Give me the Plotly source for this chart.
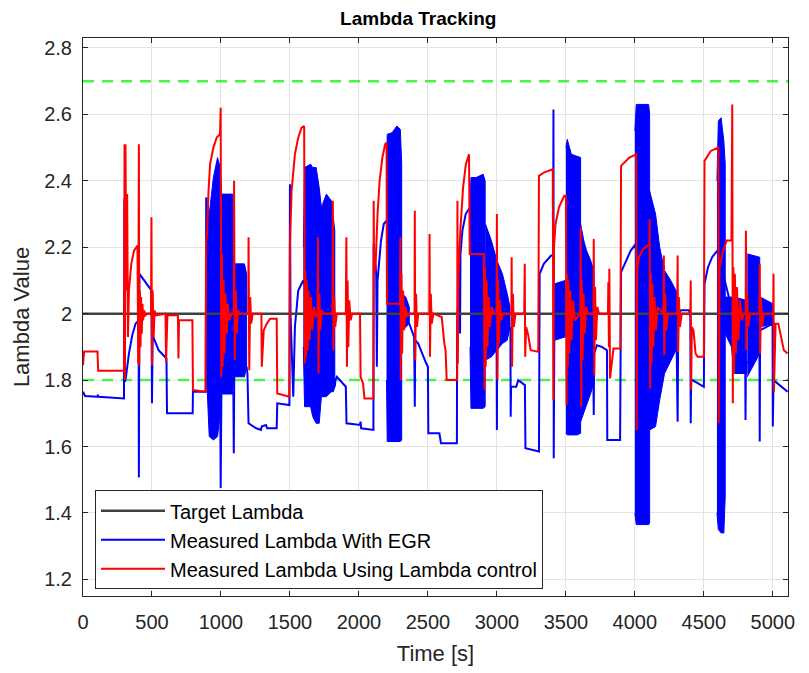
import plotly.graph_objects as go

# ---------------------------------------------------------------- data
target_t = [0, 5110]
target_lambda = [2.0, 2.0]
upper_limit = 2.7
lower_limit = 1.8

x_ticks = [0, 500, 1000, 1500, 2000, 2500, 3000, 3500, 4000, 4500, 5000]
y_ticks = [1.2, 1.4, 1.6, 1.8, 2.0, 2.2, 2.4, 2.6, 2.8]
y_tick_text = ["1.2", "1.4", "1.6", "1.8", "2", "2.2", "2.4", "2.6", "2.8"]

# Measured lambda with EGR: slow trend and isolated spikes, (time, lambda)
egr_points = [
    (0, 1.765), (15, 1.752), (105, 1.75), (108, 1.756), (112, 1.75),
    (297, 1.745), (300, 2.346), (304, 1.795), (310, 1.806), (333, 1.88),
    (357, 1.935), (381, 1.97), (403, 1.98), (405, 1.507), (409, 2.12),
    (452, 2.095), (496, 2.07), (500, 1.73), (505, 1.935), (548, 1.89),
    (605, 1.865), (609, 1.70), (795, 1.70), (797, 1.765), (890, 1.765),
    (893, 2.35), (897, 1.80), (995, 1.70), (998, 1.475), (1003, 1.76),
    (1090, 1.76), (1093, 1.58), (1096, 1.81), (1186, 1.84), (1192, 1.82),
    (1200, 1.67), (1219, 1.665), (1255, 1.655), (1290, 1.65), (1295, 1.66),
    (1326, 1.665), (1335, 1.655), (1404, 1.655), (1408, 1.73), (1496, 1.725),
    (1500, 2.39), (1504, 2.00), (1524, 1.75), (1536, 1.96), (1548, 2.03),
    (1560, 2.07), (1584, 2.09), (1597, 2.10), (1825, 1.78), (1830, 1.80),
    (1840, 1.81), (1870, 1.795), (1905, 1.78), (1910, 1.67), (2008, 1.665),
    (2012, 1.675), (2016, 1.655), (2105, 1.65), (2107, 2.21), (2125, 2.12),
    (2130, 1.84), (2135, 2.10), (2143, 2.14), (2160, 2.22), (2180, 2.27),
    (2200, 2.28), (2310, 2.00), (2365, 1.97), (2400, 1.93), (2405, 1.72),
    (2408, 1.92), (2430, 1.91), (2488, 1.85), (2500, 1.84), (2503, 1.64),
    (2583, 1.64), (2595, 1.61), (2710, 1.61), (2712, 1.97), (2726, 2.13),
    (2731, 2.15), (2733, 1.94), (2736, 2.18), (2750, 2.25), (2774, 2.30),
    (2805, 2.32), (2998, 1.90), (3000, 1.65), (3002, 1.90), (3098, 1.96),
    (3100, 1.69), (3103, 1.78), (3140, 1.78), (3155, 1.80), (3203, 1.785),
    (3207, 1.595), (3305, 1.585), (3310, 2.12), (3340, 2.15), (3393, 2.175),
    (3408, 2.175), (3410, 2.615), (3412, 1.565), (3418, 2.09), (3495, 2.00),
    (3500, 2.0), (3700, 1.78), (3702, 1.695), (3705, 1.88), (3725, 1.905),
    (3760, 1.90), (3790, 1.89), (3798, 1.89), (3800, 1.62), (3893, 1.62),
    (3900, 2.125), (3940, 2.16), (3970, 2.19), (3998, 2.205), (4303, 1.90),
    (4310, 1.675), (4313, 1.90), (4315, 2.00), (4334, 2.01), (4393, 2.01),
    (4402, 1.99), (4405, 1.67), (4408, 1.80), (4417, 1.80), (4500, 1.78),
    (4505, 2.09), (4530, 2.14), (4560, 2.17), (4598, 2.19), (4800, 1.85),
    (4802, 1.68), (4805, 1.85), (4903, 1.88), (4905, 1.615), (4908, 1.95),
    (4998, 1.97), (5000, 1.66), (5005, 1.80), (5107, 1.765),
]

# Measured lambda with EGR: envelopes of the fast oscillation bursts
egr_band_t = [
    [897, 915, 945, 975, 995, 1005, 1085, 1092, 1170, 1186],
    [1597, 1606, 1650, 1665, 1690, 1712, 1728, 1764, 1800, 1815, 1825],
    [2200, 2205, 2240, 2275, 2300, 2310],
    [2310, 2340, 2365],
    [2805, 2812, 2850, 2900, 2915],
    [2917, 2960, 3000, 3040, 3075, 3095],
    [3418, 3495],
    [3500, 3510, 3540, 3580, 3607],
    [3607, 3630, 3650, 3680, 3702],
    [4000, 4010, 4100, 4107],
    [4107, 4150, 4180, 4215, 4260, 4310],
    [4595, 4605, 4625, 4645, 4655],
    [4655, 4700, 4720, 4810],
    [4815, 4905],
    [4910, 5000],
]
egr_band_hi = [
    [2.35, 2.30, 2.41, 2.47, 2.44, 2.36, 2.36, 2.15, 2.15, 2.12],
    [2.20, 2.44, 2.45, 2.44, 2.44, 2.38, 2.32, 2.36, 2.34, 2.29, 2.25],
    [2.40, 2.54, 2.545, 2.565, 2.555, 2.45],
    [2.06, 2.05, 2.02],
    [2.32, 2.41, 2.41, 2.42, 2.40],
    [2.27, 2.22, 2.16, 2.12, 2.06, 2.02],
    [2.09, 2.10],
    [2.50, 2.525, 2.48, 2.475, 2.47],
    [2.27, 2.22, 2.19, 2.16, 2.13],
    [2.55, 2.63, 2.63, 2.60],
    [2.37, 2.30, 2.20, 2.13, 2.10, 2.06],
    [2.40, 2.58, 2.59, 2.52, 2.45],
    [2.05, 2.05, 2.05, 2.04],
    [2.18, 2.17],
    [2.05, 2.03],
]
egr_band_lo = [
    [1.80, 1.63, 1.62, 1.63, 1.70, 1.76, 1.76, 1.81, 1.81, 1.84],
    [1.90, 1.72, 1.72, 1.69, 1.67, 1.67, 1.75, 1.75, 1.765, 1.765, 1.78],
    [1.80, 1.615, 1.615, 1.615, 1.615, 1.62],
    [1.95, 1.96, 1.97],
    [1.90, 1.715, 1.715, 1.715, 1.72],
    [1.86, 1.87, 1.89, 1.91, 1.92, 1.96],
    [1.92, 1.93],
    [1.64, 1.635, 1.635, 1.635, 1.64],
    [1.675, 1.70, 1.725, 1.76, 1.79],
    [1.40, 1.365, 1.365, 1.37],
    [1.65, 1.66, 1.74, 1.82, 1.86, 1.90],
    [1.40, 1.35, 1.34, 1.34, 1.45],
    [1.94, 1.90, 1.82, 1.82],
    [1.81, 1.88],
    [1.96, 1.97],
]

# Measured lambda using lambda control, (time, lambda)
ctrl_points = [
    (0, 1.845), (8, 1.886), (105, 1.886), (110, 1.828), (298, 1.828),
    (301, 2.51), (304, 1.80), (308, 2.51), (314, 2.07), (320, 2.36),
    (326, 1.93), (333, 2.07), (350, 2.15), (370, 2.19), (395, 2.205),
    (400, 1.85), (405, 2.51), (408, 1.845), (412, 2.07), (417, 1.90),
    (421, 2.05), (426, 1.94), (431, 2.03), (436, 1.98), (443, 2.01),
    (452, 1.995), (465, 2.0), (493, 2.0), (496, 2.29), (500, 1.845),
    (505, 2.07), (512, 1.93), (519, 2.01), (526, 1.995), (598, 2.0),
    (602, 1.855), (612, 1.995), (688, 1.995), (692, 1.865), (696, 1.98),
    (793, 1.98), (797, 1.77), (888, 1.765), (892, 2.22), (898, 2.23),
    (910, 2.37), (921, 2.45), (945, 2.50), (969, 2.53), (993, 2.54),
    (998, 2.62), (1002, 1.81), (1007, 2.18), (1012, 1.84), (1019, 2.10),
    (1026, 1.88), (1033, 2.06), (1043, 1.94), (1050, 2.03), (1060, 1.98),
    (1075, 2.0), (1093, 2.0), (1095, 2.40), (1100, 1.86), (1107, 2.07),
    (1114, 1.94), (1124, 2.01), (1135, 2.0), (1198, 2.0), (1200, 2.23),
    (1205, 1.83), (1212, 2.05), (1219, 1.97), (1230, 2.0), (1293, 2.0),
    (1296, 1.84), (1310, 1.95), (1332, 1.97), (1356, 1.985), (1404, 1.985),
    (1408, 1.76), (1496, 1.75), (1500, 2.21), (1512, 2.37), (1536, 2.48),
    (1560, 2.53), (1584, 2.56), (1603, 2.565), (1608, 1.85), (1612, 2.13),
    (1617, 1.87), (1622, 2.10), (1628, 1.89), (1635, 2.07), (1643, 1.92),
    (1652, 2.05), (1662, 1.95), (1675, 2.02), (1690, 1.99), (1700, 2.0),
    (1703, 2.23), (1707, 1.82), (1713, 2.06), (1720, 1.95), (1730, 2.01),
    (1745, 2.0), (1808, 2.0), (1811, 2.34), (1815, 1.89), (1821, 2.05),
    (1828, 1.96), (1840, 2.0), (1905, 2.0), (1909, 2.23), (1913, 1.84),
    (1918, 2.10), (1923, 1.90), (1930, 2.04), (1940, 1.98), (1950, 2.0),
    (2008, 2.0), (2012, 1.81), (2030, 1.79), (2040, 1.745), (2105, 1.745),
    (2107, 2.34), (2110, 2.12), (2120, 2.14), (2135, 2.30), (2150, 2.40),
    (2170, 2.47), (2190, 2.51), (2200, 2.515), (2203, 2.03), (2298, 2.03),
    (2300, 2.23), (2303, 1.80), (2308, 2.12), (2313, 1.88), (2320, 2.07),
    (2328, 1.95), (2338, 2.02), (2350, 1.99), (2365, 2.0), (2403, 2.0),
    (2405, 2.31), (2408, 1.86), (2414, 2.06), (2421, 1.96), (2430, 2.0),
    (2510, 2.0), (2512, 2.24), (2515, 1.87), (2521, 2.06), (2528, 1.97),
    (2540, 2.0), (2600, 1.99), (2619, 1.91), (2628, 1.89), (2636, 1.80),
    (2712, 1.80), (2714, 2.34), (2717, 1.85), (2720, 2.10), (2735, 2.25),
    (2755, 2.38), (2775, 2.45), (2798, 2.48), (2803, 2.18), (2905, 2.18),
    (2910, 1.77), (2914, 2.14), (2919, 1.84), (2925, 2.10), (2932, 1.90),
    (2940, 2.05), (2950, 1.96), (2962, 2.02), (2975, 2.0), (2998, 2.0),
    (3000, 2.30), (3004, 1.80), (3009, 2.10), (3015, 1.91), (3022, 2.04),
    (3032, 1.98), (3045, 2.0), (3105, 2.0), (3107, 2.17), (3110, 1.84),
    (3116, 2.06), (3123, 1.96), (3135, 2.0), (3198, 2.0), (3202, 2.15),
    (3205, 1.87), (3212, 1.96), (3225, 1.94), (3245, 1.89), (3300, 1.885),
    (3305, 2.415), (3340, 2.425), (3405, 2.435), (3410, 1.74), (3414, 2.20),
    (3425, 2.27), (3450, 2.32), (3488, 2.355), (3500, 2.355), (3505, 1.725),
    (3510, 2.12), (3514, 1.84), (3519, 2.10), (3525, 1.88), (3532, 2.07),
    (3540, 1.92), (3552, 2.04), (3565, 1.98), (3605, 2.0), (3607, 2.26),
    (3611, 1.72), (3615, 2.10), (3621, 1.86), (3628, 2.06), (3636, 1.94),
    (3646, 2.02), (3660, 2.0), (3700, 2.0), (3702, 2.225), (3706, 1.815),
    (3712, 2.08), (3718, 1.92), (3728, 2.02), (3740, 2.0), (3805, 2.0),
    (3808, 2.095), (3812, 1.90), (3815, 2.135), (3820, 1.805), (3845, 1.895),
    (3895, 1.895), (3900, 2.445), (3960, 2.47), (4010, 2.48), (4013, 1.65),
    (4018, 2.135), (4030, 2.17), (4060, 2.195), (4095, 2.205), (4105, 2.205),
    (4107, 2.285), (4111, 1.775), (4116, 2.12), (4121, 1.85), (4127, 2.09),
    (4134, 1.90), (4142, 2.05), (4152, 1.95), (4165, 2.02), (4207, 2.0),
    (4210, 2.175), (4213, 1.875), (4219, 2.06), (4227, 1.95), (4240, 2.0),
    (4307, 2.0), (4310, 2.175), (4313, 1.885), (4319, 2.05), (4327, 1.96),
    (4340, 2.0), (4402, 2.0), (4405, 2.10), (4408, 1.77), (4413, 1.96),
    (4425, 1.95), (4440, 1.88), (4455, 1.87), (4500, 1.87), (4505, 2.46),
    (4550, 2.49), (4595, 2.50), (4605, 2.50), (4608, 1.67), (4614, 2.14),
    (4640, 2.19), (4665, 2.22), (4700, 2.22), (4706, 2.63), (4710, 1.73),
    (4714, 2.14), (4719, 1.82), (4725, 2.12), (4732, 1.88), (4740, 2.08),
    (4750, 1.92), (4762, 2.04), (4775, 1.98), (4790, 2.0), (4803, 2.0),
    (4805, 2.25), (4808, 1.89), (4814, 2.06), (4822, 1.96), (4835, 2.0),
    (4903, 2.0), (4905, 2.15), (4908, 1.88), (4914, 2.05), (4922, 1.96),
    (4935, 2.0), (5003, 2.0), (5005, 2.12), (5008, 1.765), (5020, 1.97),
    (5040, 1.97), (5060, 1.93), (5080, 1.89), (5107, 1.88),
]

egr_t, egr_lambda = map(list, zip(*egr_points))
ctrl_t, ctrl_lambda = map(list, zip(*ctrl_points))

# ---------------------------------------------------------------- figure
FONT = "Liberation Sans, Arial, Helvetica, sans-serif"
BLUE = "#0000ff"
RED = "#ff0000"
GREEN = "#4cf24c"
AXIS = "#262626"

fig = go.Figure()

# green limit lines
for level in (upper_limit, lower_limit):
    fig.add_trace(go.Scatter(x=target_t, y=[level, level], mode="lines",
                             line=dict(color=GREEN, width=2.5, dash="11px,8px"),
                             showlegend=False, hoverinfo="skip"))

# oscillation bursts of the EGR signal, drawn as filled envelopes
band_x, band_y = [], []
for t, hi, lo in zip(egr_band_t, egr_band_hi, egr_band_lo):
    band_x += t + t[::-1] + [None]
    band_y += hi + lo[::-1] + [None]
fig.add_trace(go.Scatter(x=band_x, y=band_y, mode="lines", fill="toself",
                         fillcolor=BLUE, line=dict(color=BLUE, width=1),
                         showlegend=False, hoverinfo="skip"))

fig.add_trace(go.Scatter(x=egr_t, y=egr_lambda, mode="lines",
                         name="Measured Lambda With EGR", legendrank=2,
                         line=dict(color=BLUE, width=2)))

fig.add_trace(go.Scatter(x=target_t, y=target_lambda, mode="lines",
                         name="Target Lambda", legendrank=1,
                         line=dict(color="#404040", width=2.5)))

fig.add_trace(go.Scatter(x=ctrl_t, y=ctrl_lambda, mode="lines",
                         name="Measured Lambda Using Lambda control", legendrank=3,
                         line=dict(color=RED, width=2)))

axis_common = dict(
    showline=True, linecolor=AXIS, linewidth=1, mirror="ticks",
    ticks="inside", ticklen=5, tickcolor=AXIS,
    showgrid=True, gridcolor="#e3e3e3", gridwidth=1,
    zeroline=False, tickfont=dict(family=FONT, size=20, color=AXIS),
)

fig.update_layout(
    width=809, height=673,
    margin=dict(l=83, r=21, t=38, b=75),
    paper_bgcolor="white", plot_bgcolor="white",
    title=dict(text="<b>Lambda Tracking</b>", x=0.517, xanchor="center",
               y=0.973, yanchor="middle",
               font=dict(family=FONT, size=19, color="black")),
    xaxis=dict(range=[0, 5110], tickvals=x_ticks, ticklabelstandoff=8,
               title=dict(text="Time [s]", standoff=13,
                          font=dict(family=FONT, size=22, color=AXIS)),
               **axis_common),
    yaxis=dict(range=[1.15, 2.83], tickvals=y_ticks, ticktext=y_tick_text,
               ticklabelstandoff=6,
               title=dict(text="Lambda Value", standoff=8,
                          font=dict(family=FONT, size=22, color=AXIS)),
               **axis_common),
    legend=dict(x=0.017, y=0.012, xanchor="left", yanchor="bottom",
                bgcolor="white", bordercolor=AXIS, borderwidth=1,
                font=dict(family=FONT, size=20, color="black"),
                itemwidth=64, tracegroupgap=0),
    showlegend=True,
)

fig.write_html("out.html")
